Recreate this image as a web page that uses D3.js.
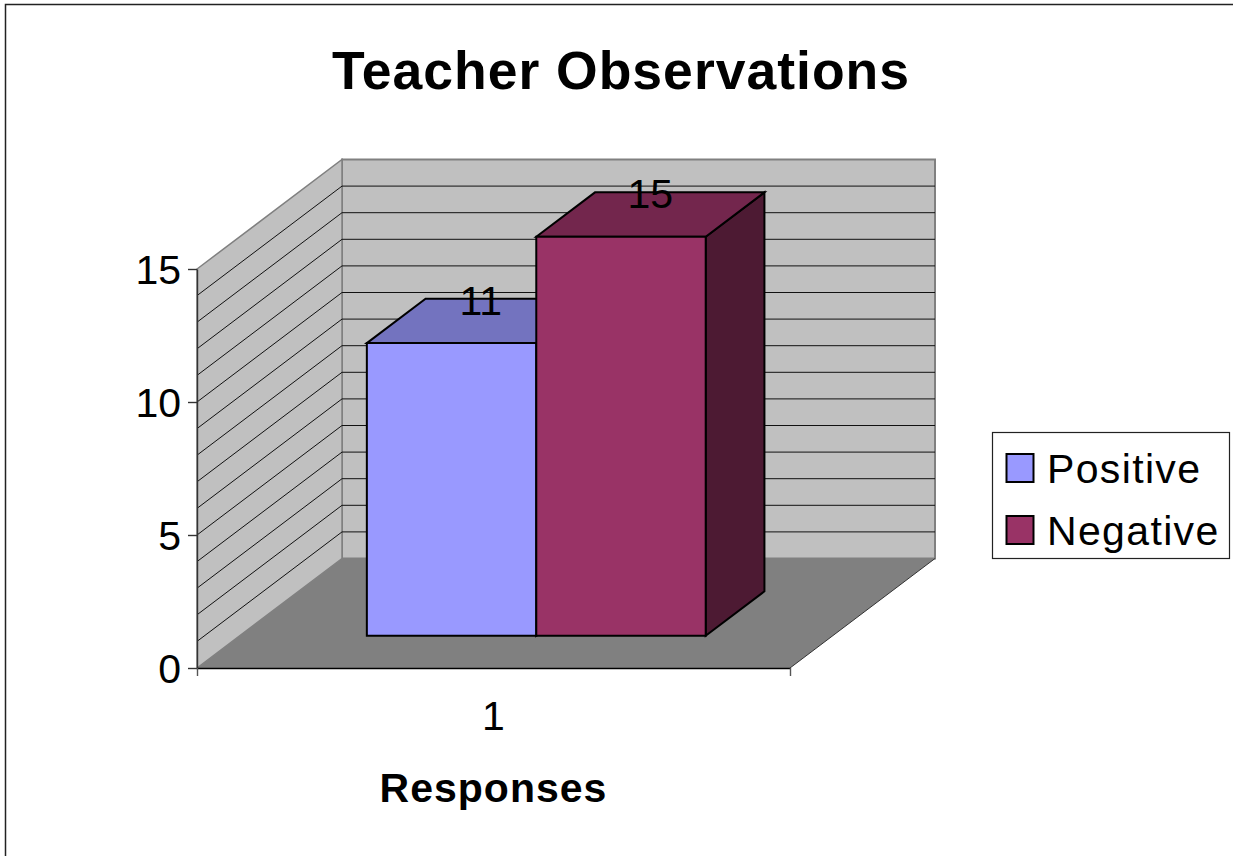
<!DOCTYPE html>
<html>
<head>
<meta charset="utf-8">
<script src="https://cdn.jsdelivr.net/npm/d3@7"></script>
<style>
  html, body { margin: 0; padding: 0; background: #fff; overflow: hidden; }
  text { font-family: "Liberation Sans", Arial, sans-serif; fill: #000; }
</style>
</head>
<body>
<script>
// values
const categories = ["1"];
const seriesNames = ["Positive", "Negative"];
const seriesValues = [11, 15];
const seriesColors = ["#9999ff", "#993366"];
const seriesTops = ["#7373bf", "#73264d"];
const seriesSides = ["#4d4d80", "#4d1a33"];
const gridValues = d3.range(0, 16);
const yTickValues = [0, 5, 10, 15];

const width = 1233, height = 856;
const svg = d3.select("body").append("svg").attr("width", width).attr("height", height);

// front plane of the 3d box
const x = d3.scaleBand().domain(seriesNames).range([197, 790]).paddingInner(0).paddingOuter(0.75);
const xEdge = d3.scaleLinear().domain([0, 1]).range([197, 790]);
const y = d3.scaleLinear().domain([0, 15]).range([668, 269]);

// depth 0 = front plane, 1 = back wall
const depthX = 145, depthY = -109.5;
const px = (v, d) => v + d * depthX;
const py = (v, d) => y(v) + d * depthY;
const poly = pts => d3.line()(pts);

// chart frame
svg.append("path").attr("d", `M5.5,${height}V4.5H${width}`)
  .attr("fill", "none").attr("stroke", "#222").attr("stroke-width", 1.5);

// title
svg.append("text").attr("x", 621).attr("y", 89).attr("text-anchor", "middle")
  .attr("font-size", 53.5).attr("font-weight", "bold").attr("letter-spacing", 1).text("Teacher Observations");

const x0 = xEdge(0), x1 = xEdge(1);

// back wall, side wall, floor
svg.append("path")
  .attr("d", poly([[px(x0, 1), py(0, 1)], [px(x1, 1), py(0, 1)], [px(x1, 1), py(15, 1)], [px(x0, 1), py(15, 1)]]) + "Z")
  .attr("fill", "#c0c0c0").attr("stroke", "#808080").attr("stroke-width", 2);
svg.append("path")
  .attr("d", poly([[px(x0, 0), py(0, 0)], [px(x0, 1), py(0, 1)], [px(x0, 1), py(15, 1)], [px(x0, 0), py(15, 0)]]) + "Z")
  .attr("fill", "#c0c0c0").attr("stroke", "#808080").attr("stroke-width", 1.5);

// gridlines on the two walls
const grid = svg.append("g").attr("fill", "none").attr("stroke", "#111").attr("stroke-width", 1);
grid.selectAll("path").data(gridValues.filter(v => v > 0 && v < 15)).join("path")
  .attr("d", v => poly([[px(x0, 0), py(v, 0)], [px(x0, 1), py(v, 1)], [px(x1, 1), py(v, 1)]]));

svg.append("path")
  .attr("d", poly([[px(x0, 0), py(0, 0)], [px(x1, 0), py(0, 0)], [px(x1, 1), py(0, 1)], [px(x0, 1), py(0, 1)]]) + "Z")
  .attr("fill", "#808080");
svg.append("path")
  .attr("d", poly([[px(x1, 0), py(0, 0)], [px(x1, 1), py(0, 1)]]))
  .attr("stroke", "#333").attr("fill", "none");

// axes
const yAxis = d3.axisLeft(y).tickValues(yTickValues).tickSize(9).tickSizeOuter(0).tickPadding(7);
const yG = svg.append("g").attr("transform", `translate(${x0},0)`).call(yAxis);
yG.selectAll("path,line").attr("stroke", "#333").attr("stroke-width", 1.4);
yG.selectAll("text").attr("font-size", 41).attr("font-family", null).attr("dy", "0.36em");

const xAxis = d3.axisBottom(xEdge).tickValues([0, 1]).tickFormat("").tickSize(8).tickSizeOuter(0);
const xG = svg.append("g").attr("transform", `translate(0,${y(0)})`).call(xAxis);
xG.selectAll("path").attr("stroke", "#000").attr("stroke-width", 1.5);
xG.selectAll("line").attr("stroke", "#555").attr("stroke-width", 1.4);

svg.append("text").attr("x", d3.mean(xEdge.range())).attr("y", 730).attr("text-anchor", "middle")
  .attr("font-size", 41).text(categories[0]);
svg.append("text").attr("x", 493.5).attr("y", 802).attr("text-anchor", "middle")
  .attr("font-size", 41).attr("font-weight", "bold").attr("letter-spacing", 1).text("Responses");

// bars, sit from depth 0.295 to 0.7 in the box
const dFront = 0.295, dBack = 0.7;
const bars = svg.append("g").attr("stroke", "#000").attr("stroke-width", 2).attr("stroke-linejoin", "miter");
seriesNames.forEach((name, i) => {
  const l = x(name), r = l + x.bandwidth(), v = seriesValues[i];
  bars.append("path").attr("fill", seriesSides[i])
    .attr("d", poly([[px(r, dFront), py(0, dFront)], [px(r, dBack), py(0, dBack)], [px(r, dBack), py(v, dBack)], [px(r, dFront), py(v, dFront)]]) + "Z");
  bars.append("path").attr("fill", seriesTops[i])
    .attr("d", poly([[px(l, dFront), py(v, dFront)], [px(l, dBack), py(v, dBack)], [px(r, dBack), py(v, dBack)], [px(r, dFront), py(v, dFront)]]) + "Z");
  bars.append("path").attr("fill", seriesColors[i])
    .attr("d", poly([[px(l, dFront), py(0, dFront)], [px(r, dFront), py(0, dFront)], [px(r, dFront), py(v, dFront)], [px(l, dFront), py(v, dFront)]]) + "Z");
});

// value labels
svg.append("g").selectAll("text").data(seriesNames).join("text")
  .attr("x", d => px(x(d) + x.bandwidth() / 2, 0.5) - 0.5)
  .attr("y", (d, i) => py(seriesValues[i], 0.5) - 6)
  .attr("text-anchor", "middle").attr("font-size", 41)
  .text((d, i) => seriesValues[i]);

// legend
const legend = svg.append("g");
legend.append("rect").attr("x", 992.5).attr("y", 432.5).attr("width", 237).attr("height", 126)
  .attr("fill", "#fff").attr("stroke", "#222").attr("stroke-width", 1.2);
const legendY = d3.scalePoint().domain(seriesNames).range([468, 530]);
seriesNames.forEach((name, i) => {
  legend.append("rect").attr("x", 1006.5).attr("y", legendY(name) - 14).attr("width", 27).attr("height", 28)
    .attr("fill", seriesColors[i]).attr("stroke", "#000").attr("stroke-width", 2);
  legend.append("text").attr("x", 1047).attr("y", legendY(name) + 15).attr("font-size", 41)
    .attr("letter-spacing", 1.35).text(name);
});
</script>
</body>
</html>
